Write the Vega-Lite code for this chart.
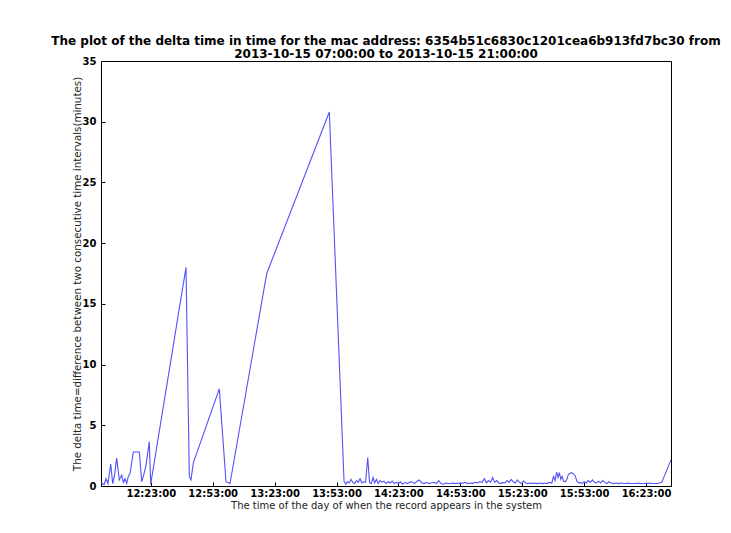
{
  "$schema": "https://vega.github.io/schema/vega-lite/v6.json",
  "width": 570,
  "height": 425,
  "autosize": "none",
  "padding": {"left": 101, "top": 61, "right": 60, "bottom": 47},
  "background": "white",
  "title": {
    "text": [
      "The plot of the delta time in time for the mac address: 6354b51c6830c1201cea6b913fd7bc30 from",
      "2013-10-15 07:00:00 to 2013-10-15 21:00:00"
    ],
    "font": "DejaVu Sans",
    "fontSize": 12,
    "fontWeight": "bold",
    "color": "black",
    "anchor": "middle",
    "lineHeight": 13.5,
    "offset": -5
  },
  "data": {
    "values": [
      {"t": "2013-10-15T11:58:52", "delta": 0.3},
      {"t": "2013-10-15T12:00:20", "delta": 0.1},
      {"t": "2013-10-15T12:01:17", "delta": 0.6},
      {"t": "2013-10-15T12:02:15", "delta": 0.2},
      {"t": "2013-10-15T12:03:34", "delta": 1.8},
      {"t": "2013-10-15T12:04:32", "delta": 0.2},
      {"t": "2013-10-15T12:05:25", "delta": 0.9},
      {"t": "2013-10-15T12:06:28", "delta": 2.3},
      {"t": "2013-10-15T12:07:44", "delta": 0.5},
      {"t": "2013-10-15T12:08:54", "delta": 0.9},
      {"t": "2013-10-15T12:09:40", "delta": 0.3},
      {"t": "2013-10-15T12:10:30", "delta": 0.6},
      {"t": "2013-10-15T12:11:19", "delta": 0.2},
      {"t": "2013-10-15T12:12:06", "delta": 0.8},
      {"t": "2013-10-15T12:12:55", "delta": 1.0},
      {"t": "2013-10-15T12:14:31", "delta": 2.8},
      {"t": "2013-10-15T12:17:26", "delta": 2.8},
      {"t": "2013-10-15T12:18:35", "delta": 0.35},
      {"t": "2013-10-15T12:19:42", "delta": 1.0},
      {"t": "2013-10-15T12:20:40", "delta": 1.7},
      {"t": "2013-10-15T12:22:16", "delta": 3.65},
      {"t": "2013-10-15T12:22:57", "delta": 0.15},
      {"t": "2013-10-15T12:40:04", "delta": 18.0},
      {"t": "2013-10-15T12:41:40", "delta": 0.8},
      {"t": "2013-10-15T12:42:29", "delta": 0.5},
      {"t": "2013-10-15T12:43:36", "delta": 1.9},
      {"t": "2013-10-15T12:56:12", "delta": 8.0},
      {"t": "2013-10-15T12:59:27", "delta": 0.35},
      {"t": "2013-10-15T13:01:23", "delta": 0.2},
      {"t": "2013-10-15T13:19:11", "delta": 17.5},
      {"t": "2013-10-15T13:49:31", "delta": 30.8},
      {"t": "2013-10-15T13:56:39", "delta": 0.4},
      {"t": "2013-10-15T13:57:30", "delta": 0.15},
      {"t": "2013-10-15T13:58:20", "delta": 0.35},
      {"t": "2013-10-15T13:59:10", "delta": 0.25},
      {"t": "2013-10-15T14:00:00", "delta": 0.55},
      {"t": "2013-10-15T14:00:50", "delta": 0.3},
      {"t": "2013-10-15T14:01:45", "delta": 0.2},
      {"t": "2013-10-15T14:02:40", "delta": 0.45},
      {"t": "2013-10-15T14:03:30", "delta": 0.3},
      {"t": "2013-10-15T14:04:25", "delta": 0.6},
      {"t": "2013-10-15T14:05:15", "delta": 0.25},
      {"t": "2013-10-15T14:06:10", "delta": 0.35},
      {"t": "2013-10-15T14:07:05", "delta": 0.3},
      {"t": "2013-10-15T14:08:08", "delta": 2.35},
      {"t": "2013-10-15T14:09:00", "delta": 0.3},
      {"t": "2013-10-15T14:09:50", "delta": 0.2},
      {"t": "2013-10-15T14:10:45", "delta": 0.7},
      {"t": "2013-10-15T14:11:30", "delta": 0.25},
      {"t": "2013-10-15T14:12:20", "delta": 0.55},
      {"t": "2013-10-15T14:13:10", "delta": 0.2},
      {"t": "2013-10-15T14:14:05", "delta": 0.45},
      {"t": "2013-10-15T14:15:00", "delta": 0.3},
      {"t": "2013-10-15T14:16:00", "delta": 0.4},
      {"t": "2013-10-15T14:17:00", "delta": 0.2},
      {"t": "2013-10-15T14:18:00", "delta": 0.35},
      {"t": "2013-10-15T14:19:00", "delta": 0.25},
      {"t": "2013-10-15T14:20:00", "delta": 0.4},
      {"t": "2013-10-15T14:21:00", "delta": 0.2},
      {"t": "2013-10-15T14:22:00", "delta": 0.3},
      {"t": "2013-10-15T14:23:00", "delta": 0.2},
      {"t": "2013-10-15T14:24:00", "delta": 0.35},
      {"t": "2013-10-15T14:25:00", "delta": 0.15},
      {"t": "2013-10-15T14:26:10", "delta": 0.3},
      {"t": "2013-10-15T14:27:20", "delta": 0.2},
      {"t": "2013-10-15T14:28:30", "delta": 0.3},
      {"t": "2013-10-15T14:29:40", "delta": 0.35},
      {"t": "2013-10-15T14:30:50", "delta": 0.2},
      {"t": "2013-10-15T14:32:00", "delta": 0.4},
      {"t": "2013-10-15T14:33:10", "delta": 0.5},
      {"t": "2013-10-15T14:34:20", "delta": 0.25},
      {"t": "2013-10-15T14:35:30", "delta": 0.2},
      {"t": "2013-10-15T14:36:40", "delta": 0.3},
      {"t": "2013-10-15T14:37:50", "delta": 0.2},
      {"t": "2013-10-15T14:39:00", "delta": 0.25},
      {"t": "2013-10-15T14:40:10", "delta": 0.3},
      {"t": "2013-10-15T14:41:20", "delta": 0.2},
      {"t": "2013-10-15T14:42:30", "delta": 0.45},
      {"t": "2013-10-15T14:43:40", "delta": 0.2},
      {"t": "2013-10-15T14:44:50", "delta": 0.15},
      {"t": "2013-10-15T14:46:00", "delta": 0.25},
      {"t": "2013-10-15T14:47:10", "delta": 0.2},
      {"t": "2013-10-15T14:48:20", "delta": 0.2},
      {"t": "2013-10-15T14:49:30", "delta": 0.25},
      {"t": "2013-10-15T14:50:40", "delta": 0.2},
      {"t": "2013-10-15T14:51:50", "delta": 0.25},
      {"t": "2013-10-15T14:53:00", "delta": 0.2},
      {"t": "2013-10-15T14:54:10", "delta": 0.25},
      {"t": "2013-10-15T14:55:20", "delta": 0.3},
      {"t": "2013-10-15T14:56:30", "delta": 0.2},
      {"t": "2013-10-15T14:57:40", "delta": 0.25},
      {"t": "2013-10-15T14:58:50", "delta": 0.2},
      {"t": "2013-10-15T15:00:00", "delta": 0.3},
      {"t": "2013-10-15T15:01:10", "delta": 0.25},
      {"t": "2013-10-15T15:02:20", "delta": 0.35},
      {"t": "2013-10-15T15:03:30", "delta": 0.3},
      {"t": "2013-10-15T15:04:40", "delta": 0.6},
      {"t": "2013-10-15T15:05:40", "delta": 0.25},
      {"t": "2013-10-15T15:06:40", "delta": 0.45},
      {"t": "2013-10-15T15:07:40", "delta": 0.3},
      {"t": "2013-10-15T15:08:40", "delta": 0.7},
      {"t": "2013-10-15T15:09:40", "delta": 0.3},
      {"t": "2013-10-15T15:10:40", "delta": 0.45},
      {"t": "2013-10-15T15:11:40", "delta": 0.25},
      {"t": "2013-10-15T15:12:40", "delta": 0.2},
      {"t": "2013-10-15T15:13:40", "delta": 0.3},
      {"t": "2013-10-15T15:14:40", "delta": 0.25},
      {"t": "2013-10-15T15:15:40", "delta": 0.45},
      {"t": "2013-10-15T15:16:40", "delta": 0.3},
      {"t": "2013-10-15T15:17:40", "delta": 0.55},
      {"t": "2013-10-15T15:18:40", "delta": 0.35},
      {"t": "2013-10-15T15:19:40", "delta": 0.25},
      {"t": "2013-10-15T15:20:40", "delta": 0.5},
      {"t": "2013-10-15T15:21:40", "delta": 0.3},
      {"t": "2013-10-15T15:22:40", "delta": 0.2},
      {"t": "2013-10-15T15:23:40", "delta": 0.4},
      {"t": "2013-10-15T15:24:40", "delta": 0.25},
      {"t": "2013-10-15T15:25:40", "delta": 0.2},
      {"t": "2013-10-15T15:26:50", "delta": 0.25},
      {"t": "2013-10-15T15:28:00", "delta": 0.2},
      {"t": "2013-10-15T15:29:10", "delta": 0.25},
      {"t": "2013-10-15T15:30:20", "delta": 0.2},
      {"t": "2013-10-15T15:31:30", "delta": 0.25},
      {"t": "2013-10-15T15:32:40", "delta": 0.2},
      {"t": "2013-10-15T15:33:50", "delta": 0.25},
      {"t": "2013-10-15T15:35:00", "delta": 0.2},
      {"t": "2013-10-15T15:36:10", "delta": 0.3},
      {"t": "2013-10-15T15:37:20", "delta": 0.25},
      {"t": "2013-10-15T15:38:10", "delta": 0.8},
      {"t": "2013-10-15T15:38:55", "delta": 0.45},
      {"t": "2013-10-15T15:39:40", "delta": 1.15},
      {"t": "2013-10-15T15:40:20", "delta": 0.7},
      {"t": "2013-10-15T15:41:00", "delta": 1.1},
      {"t": "2013-10-15T15:41:40", "delta": 0.55},
      {"t": "2013-10-15T15:42:20", "delta": 0.8},
      {"t": "2013-10-15T15:43:00", "delta": 0.4},
      {"t": "2013-10-15T15:43:50", "delta": 0.35},
      {"t": "2013-10-15T15:44:40", "delta": 0.55},
      {"t": "2013-10-15T15:45:20", "delta": 0.95},
      {"t": "2013-10-15T15:46:10", "delta": 1.05},
      {"t": "2013-10-15T15:47:00", "delta": 1.1},
      {"t": "2013-10-15T15:47:50", "delta": 1.0},
      {"t": "2013-10-15T15:48:40", "delta": 0.85},
      {"t": "2013-10-15T15:49:30", "delta": 0.4},
      {"t": "2013-10-15T15:50:20", "delta": 0.25},
      {"t": "2013-10-15T15:51:10", "delta": 0.3},
      {"t": "2013-10-15T15:52:00", "delta": 0.2},
      {"t": "2013-10-15T15:53:00", "delta": 0.35},
      {"t": "2013-10-15T15:54:00", "delta": 0.25},
      {"t": "2013-10-15T15:55:00", "delta": 0.45},
      {"t": "2013-10-15T15:56:00", "delta": 0.3},
      {"t": "2013-10-15T15:57:00", "delta": 0.5},
      {"t": "2013-10-15T15:58:00", "delta": 0.3},
      {"t": "2013-10-15T15:59:00", "delta": 0.25},
      {"t": "2013-10-15T16:00:00", "delta": 0.4},
      {"t": "2013-10-15T16:01:00", "delta": 0.25},
      {"t": "2013-10-15T16:02:00", "delta": 0.45},
      {"t": "2013-10-15T16:03:00", "delta": 0.3},
      {"t": "2013-10-15T16:04:00", "delta": 0.2},
      {"t": "2013-10-15T16:05:00", "delta": 0.35},
      {"t": "2013-10-15T16:06:10", "delta": 0.25},
      {"t": "2013-10-15T16:07:20", "delta": 0.2},
      {"t": "2013-10-15T16:08:30", "delta": 0.25},
      {"t": "2013-10-15T16:09:40", "delta": 0.2},
      {"t": "2013-10-15T16:10:50", "delta": 0.25},
      {"t": "2013-10-15T16:12:00", "delta": 0.2},
      {"t": "2013-10-15T16:13:10", "delta": 0.2},
      {"t": "2013-10-15T16:14:20", "delta": 0.25},
      {"t": "2013-10-15T16:15:30", "delta": 0.2},
      {"t": "2013-10-15T16:16:40", "delta": 0.2},
      {"t": "2013-10-15T16:17:50", "delta": 0.2},
      {"t": "2013-10-15T16:19:00", "delta": 0.25},
      {"t": "2013-10-15T16:20:10", "delta": 0.2},
      {"t": "2013-10-15T16:21:20", "delta": 0.2},
      {"t": "2013-10-15T16:22:30", "delta": 0.2},
      {"t": "2013-10-15T16:23:40", "delta": 0.2},
      {"t": "2013-10-15T16:24:50", "delta": 0.25},
      {"t": "2013-10-15T16:26:00", "delta": 0.2},
      {"t": "2013-10-15T16:27:10", "delta": 0.2},
      {"t": "2013-10-15T16:28:20", "delta": 0.2},
      {"t": "2013-10-15T16:29:30", "delta": 0.25},
      {"t": "2013-10-15T16:30:37", "delta": 0.3},
      {"t": "2013-10-15T16:35:06", "delta": 2.15}
    ]
  },
  "mark": {"type": "line", "color": "#5252f8", "strokeWidth": 1.1, "clip": true},
  "encoding": {
    "x": {
      "field": "t",
      "type": "temporal",
      "scale": {
        "domain": [
          {"year": 2013, "month": 10, "date": 15, "hours": 11, "minutes": 58, "seconds": 52},
          {"year": 2013, "month": 10, "date": 15, "hours": 16, "minutes": 35, "seconds": 6}
        ],
        "nice": false
      },
      "axis": {
        "title": "The time of the day of when the record appears in the system",
        "format": "%H:%M:%S",
        "values": [
          {"year": 2013, "month": 10, "date": 15, "hours": 12, "minutes": 23},
          {"year": 2013, "month": 10, "date": 15, "hours": 12, "minutes": 53},
          {"year": 2013, "month": 10, "date": 15, "hours": 13, "minutes": 23},
          {"year": 2013, "month": 10, "date": 15, "hours": 13, "minutes": 53},
          {"year": 2013, "month": 10, "date": 15, "hours": 14, "minutes": 23},
          {"year": 2013, "month": 10, "date": 15, "hours": 14, "minutes": 53},
          {"year": 2013, "month": 10, "date": 15, "hours": 15, "minutes": 23},
          {"year": 2013, "month": 10, "date": 15, "hours": 15, "minutes": 53},
          {"year": 2013, "month": 10, "date": 15, "hours": 16, "minutes": 23}
        ],
        "labelPadding": 6,
        "titlePadding": 2,
        "titleFontSize": 10
      }
    },
    "y": {
      "field": "delta",
      "type": "quantitative",
      "scale": {"domain": [0, 35], "nice": false},
      "axis": {
        "title": "The delta time=difference between two consecutive time intervals(minutes)",
        "values": [0, 5, 10, 15, 20, 25, 30, 35],
        "labelPadding": 9,
        "titlePadding": 0,
        "titleFontSize": 10.3
      }
    }
  },
  "config": {
    "view": {"stroke": "black", "strokeWidth": 1},
    "axis": {
      "grid": false,
      "domainColor": "black",
      "tickColor": "black",
      "tickSize": -4,
      "labelFont": "DejaVu Sans",
      "labelFontSize": 10,
      "labelFontWeight": "bold",
      "labelColor": "black",
      "titleFont": "DejaVu Sans",
      "titleFontWeight": "normal",
      "titleColor": "#222222",
      "labelFlush": false
    }
  }
}
